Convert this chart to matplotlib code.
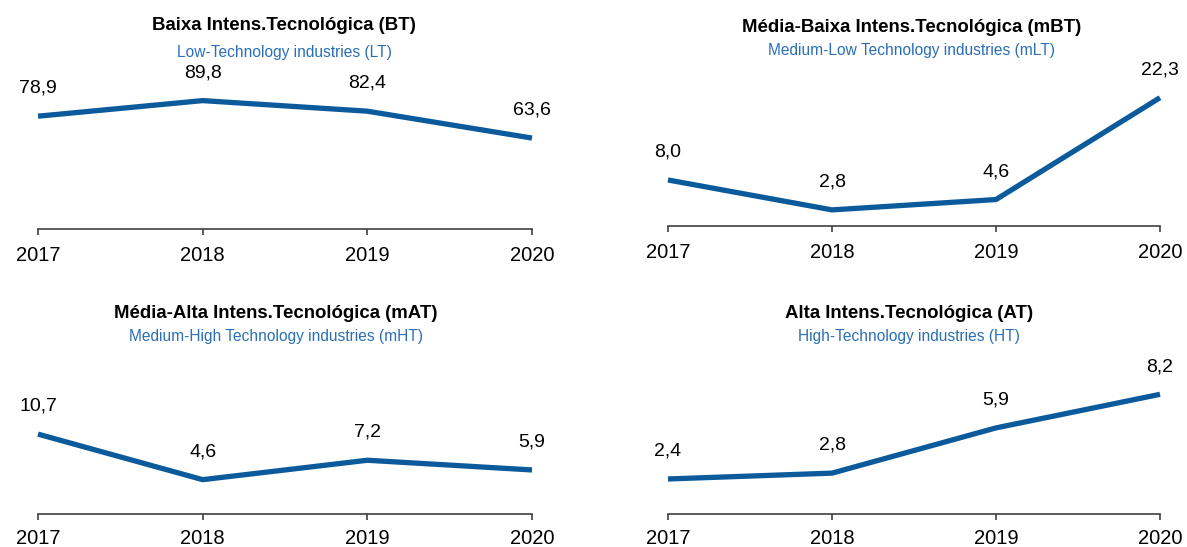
import matplotlib
matplotlib.use("Agg")
import matplotlib.pyplot as plt

years = [2017, 2018, 2019, 2020]
bt_values = [78.9, 89.8, 82.4, 63.6]
mbt_values = [8.0, 2.8, 4.6, 22.3]
mat_values = [10.7, 4.6, 7.2, 5.9]
at_values = [2.4, 2.8, 5.9, 8.2]

titles = ["Baixa Intens.Tecnológica (BT)", "Média-Baixa Intens.Tecnológica (mBT)",
          "Média-Alta Intens.Tecnológica (mAT)", "Alta Intens.Tecnológica (AT)"]
subtitles = ["Low-Technology industries (LT)", "Medium-Low Technology industries (mLT)",
             "Medium-High Technology industries (mHT)", "High-Technology industries (HT)"]
series = [bt_values, mbt_values, mat_values, at_values]

W, H = 1187, 547
fig = plt.figure(figsize=(W / 100, H / 100), dpi=100)

reg = "Liberation Sans"

LINE_COLOR = "#0B5A9C"
SUB_COLOR = "#2A6FB5"

# layout in pixels: (left, right, axis_y, top_y, ymax, title_cx, title_y, sub_y)
layout = [
    (38, 532, 229, 62, 116.8, 284, 25, 52),
    (668, 1160, 226, 62, 28.5, 912, 27, 50),
    (38, 532, 514, 352, 21.7, 276, 313, 336),
    (668, 1160, 514, 352, 11.1, 909, 313, 336),
]

def fx(px):
    return px / W

def fy(py):
    return 1 - py / H

for i, (vals, title, sub, (l, r, b, t, ymax, tcx, ty, sy)) in enumerate(zip(series, titles, subtitles, layout)):
    ax = fig.add_axes([fx(l), fy(b), (r - l) / W, (b - t) / H])
    ax.plot(years, vals, color=LINE_COLOR, lw=3.8, solid_capstyle="butt",
            solid_joinstyle="round", clip_on=False)
    for x, v in zip(years, vals):
        ax.annotate(f"{v:.1f}".replace(".", ","), (x, v), xytext=(0, 20),
                    textcoords="offset points", ha="center", va="center",
                    fontsize=14, family=reg, color="#000000")
    ax.set_xlim(2017, 2020)
    ax.set_ylim(0, ymax)
    ax.set_xticks(years)
    ax.set_xticklabels([str(y) for y in years], fontsize=14.5, family=reg, color="#000000")
    ax.set_yticks([])
    for s in ["top", "left", "right"]:
        ax.spines[s].set_visible(False)
    ax.spines["bottom"].set_color("#404040")
    ax.spines["bottom"].set_linewidth(1.2)
    ax.tick_params(axis="x", length=4.5, width=1.2, color="#404040",
                   pad=8 if i < 2 else 6.5, direction="out")
    ax.patch.set_alpha(0)

    fig.text(fx(tcx), fy(ty), title, ha="center", va="center", fontsize=13.4,
             fontweight="bold", family=reg, color="#000000")
    fig.text(fx(tcx), fy(sy), sub, ha="center", va="center", fontsize=11.2,
             family=reg, color=SUB_COLOR)

fig.savefig("out.png", dpi=100)
